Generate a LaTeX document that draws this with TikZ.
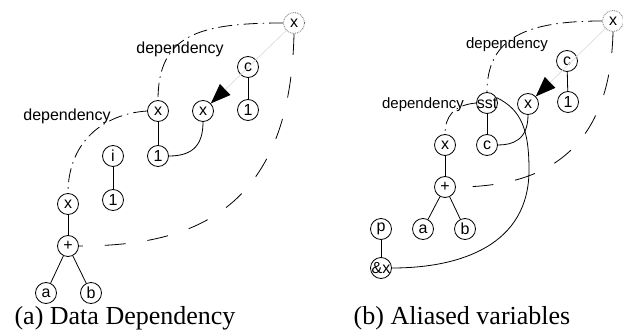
\documentclass[tikz,border=0pt]{standalone}
\usepackage{fontspec}
\setmainfont{Liberation Serif}
\setsansfont{Liberation Sans}
\usetikzlibrary{arrows.meta}
\tikzstyle{ball}=[circle, draw, inner sep=0pt, minimum size=21pt, font=\sffamily\fontsize{16}{16}\selectfont]
\tikzstyle{ghost}=[ball, densely dotted, draw=black!60]
\tikzstyle{depline}=[dash pattern=on 14pt off 5pt on 1.5pt off 5pt]
\tikzstyle{dashline}=[dash pattern=on 21pt off 22pt]
\tikzstyle{alias}=[draw=black!12, -{Triangle[length=20pt,width=15pt,color=black]}]
\tikzstyle{caption}=[font=\fontsize{26}{26}\selectfont]
\tikzset{deplabel/.style={font=\sffamily\fontsize{#1}{#1}\selectfont}, deplabel/.default=16}

\begin{document}
\begin{tikzpicture}[x=1pt, y=-1pt, line width=0.8pt]
	\useasboundingbox (0,0) rectangle (623,331);
	% (a) data dependency
	\node[ghost] (xa) at (294,23) {x};
	\node[ball] (ca) at (248,67) {c};
	\node[ball] (onec) at (248,110) {1};
	\node[ball] (xt) at (203,111) {x};
	\node[ball] (xs) at (158,111) {x};
	\node[ball] (ones) at (158,156) {1};
	\node[ball] (ia) at (113,156) {i};
	\node[ball] (onei) at (113,200) {1};
	\node[ball] (xp) at (68,204) {x};
	\node[ball] (pa) at (68,246) {+};
	\node[ball] (aa) at (46,293) {a};
	\node[ball] (ba) at (91,293) {b};
	\foreach \u/\v in {ca/onec, xs/ones, ia/onei, xp/pa, pa/aa, pa/ba}{
		\draw (\u) -- (\v);
	}
	\draw (ones.east) .. controls +(25,0) and +(0,22) .. (xt.south);
	\draw[alias] (xa) -- (xt);
	\draw[depline] (xa.west) .. controls +(-85,0) and +(0,-65) .. (xs.north);
	\draw[depline] (xs.west) .. controls +(-45,3) and +(0,-50) .. (xp.north);
	\draw[dashline] (xa.south) .. controls +(-4,180) and +(110,0) .. (pa.east);
	\node[deplabel] (da1) at (180,49) {dependency};
	\node[deplabel] (da2) at (67,116) {dependency};
	\node[caption] (capa) at (125,318) {(a) Data Dependency};

	% (b) aliased variables
	\node[ghost] (xb) at (613,21) {x};
	\node[ball] (cb) at (567,61) {c};
	\node[ball] (onecb) at (568,102) {1};
	\node[ball] (xtb) at (528,104) {x};
	\node[ball] (sst) at (487,103) {\makebox[0pt]{sst}};
	\node[ball] (csst) at (487,145) {c};
	\node[ball] (xpb) at (445,145) {x};
	\node[ball] (pb) at (445,187) {+};
	\node[ball] (ab) at (423,229) {a};
	\node[ball] (bb) at (465,229) {b};
	\node[ball] (p) at (381,229) {p};
	\node[ball] (amp) at (381,268) {\makebox[0pt]{\&x}};
	\foreach \u/\v in {cb/onecb, sst/csst, xpb/pb, pb/ab, pb/bb, p/amp}{
		\draw (\u) -- (\v);
	}
	\draw (xtb.south) .. controls +(0,25) and +(15,0) .. (csst.east);
	\draw (sst.30) .. controls +(25,12) and +(0,-40) .. (529,170)
		.. controls +(0,75) and +(69,0) .. (amp.east);
	\draw[alias] (xb) -- (xtb);
	\draw[depline] (xb.west) .. controls +(-75,0) and +(0,-55) .. (sst.north);
	\draw[depline] (sst.west) .. controls +(-22,2) and +(0,-18) .. (xpb.north);
	\draw[dashline] (xb.south) .. controls +(-3,130) and +(75,0) .. (pb.east);
	\node[deplabel=15] (db1) at (507,45) {dependency};
	\node[deplabel=15] (db2) at (423,105) {dependency};
	\node[caption] (capb) at (462,318) {(b) Aliased variables};
\end{tikzpicture}
\end{document}
